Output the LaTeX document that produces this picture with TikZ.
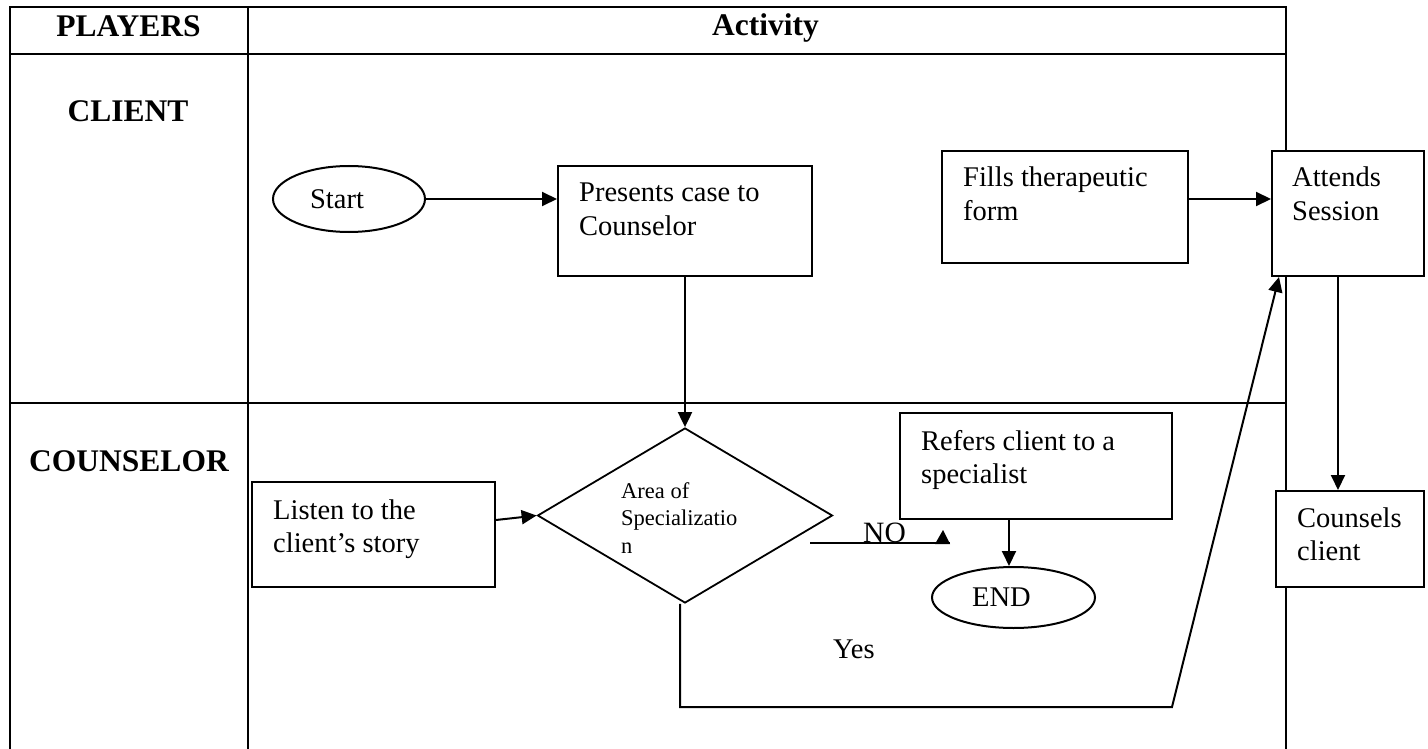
\documentclass[tikz,border=0pt]{standalone}
\usepackage{fontspec}
\setmainfont{Liberation Serif}
\usetikzlibrary{shapes.geometric,arrows.meta}
\begin{document}
\begin{tikzpicture}[x=1pt,y=-1pt,
  tbl/.style={line width=2.7pt},
  box/.style={draw,line width=2pt,fill=white,rectangle,inner sep=0pt},
  term/.style={draw,line width=2pt,fill=white,ellipse,inner sep=0pt,font=\fontsize{28.5}{33}\selectfont},
  dec/.style={draw,line width=1.8pt,fill=white,diamond,inner sep=0pt},
  conn/.style={line width=2pt},
  arr/.style={conn,-{Triangle[length=15pt,width=14pt]}},
  head/.style={font=\bfseries\fontsize{31.5}{36}\selectfont,inner sep=0pt,anchor=base},
  txt/.style={font=\fontsize{28.5}{33.5}\selectfont,inner sep=0pt,anchor=base west},
  small/.style={font=\fontsize{22.5}{27.5}\selectfont,inner sep=0pt,anchor=base west}]
\useasboundingbox[fill=white] (0,0) rectangle (1428,749);

% table
\draw[tbl] (10,749) -- (10,7) -- (1286,7) -- (1286,749);
\draw[tbl] (10,54) -- (1286,54);
\draw[tbl] (10,403) -- (1286,403);
\draw[tbl] (248,7) -- (248,749);

% headers
\node[head] (hp) at (128.5,37) {PLAYERS};
\node[head] (ha) at (765.5,36) {Activity};
\node[head] (hc) at (128,122) {CLIENT};
\node[head] (hco) at (129,471) {COUNSELOR};

% shapes
\node[term,minimum width=152,minimum height=66] (start) at (349,199) {\hspace*{-24pt}Start};
\node[box,minimum width=254,minimum height=110] (pres) at (685,221) {};
\node[box,minimum width=246,minimum height=112] (fills) at (1065,207) {};
\node[box,minimum width=152,minimum height=125] (att) at (1348,213.5) {};
\node[box,minimum width=148,minimum height=96] (couns) at (1350,539) {};
\node[box,minimum width=243,minimum height=105] (listen) at (373.5,534.5) {};
\node[box,minimum width=272,minimum height=106] (refers) at (1036,466) {};
\node[dec,minimum width=295,minimum height=175] (dia) at (685,515.5) {};
\node[term,minimum width=163,minimum height=61] (endn) at (1013.5,597.5) {\hspace*{-24pt}END};

% texts
\node[txt] (presT) at (579,202) {\begin{tabular}[t]{@{}l@{}}Presents case to\\Counselor\end{tabular}};
\node[txt] (fillsT) at (963,187) {\begin{tabular}[t]{@{}l@{}}Fills therapeutic\\form\end{tabular}};
\node[txt] (attT) at (1292,187) {\begin{tabular}[t]{@{}l@{}}Attends\\Session\end{tabular}};
\node[txt] (counsT) at (1297,527) {\begin{tabular}[t]{@{}l@{}}Counsels\\client\end{tabular}};
\node[txt] (listenT) at (273,519) {\begin{tabular}[t]{@{}l@{}}Listen to the\\client’s story\end{tabular}};
\node[txt] (refersT) at (921,450) {\begin{tabular}[t]{@{}l@{}}Refers client to a\\specialist\end{tabular}};
\node[small] (diaT) at (621,498) {\begin{tabular}[t]{@{}l@{}}Area of\\Specializatio\\n\end{tabular}};
\node[txt,font=\fontsize{29.5}{34}\selectfont] (noT) at (863,542) {NO};
\node[txt] (yesT) at (833,658) {Yes};

% connectors
\draw[arr] (start.east) -- (start.east -| pres.west);
\draw[arr] (pres.south) -- (dia.north);
\draw[arr] (fills.east |- start.east) -- (att.west |- start.east);
\draw[arr] ([xshift=-10pt]att.south) -- ([xshift=-10pt]att.south |- couns.north);
\draw[arr] (listen.east |- 0,520) -- (dia.west);
\draw[arr] ([xshift=-4.5pt]endn.north |- refers.south) -- ([xshift=-4.5pt]endn.north);
\coordinate (nos) at (810,543);
\coordinate (noe) at (950,543);
\draw[conn] (nos) -- (noe);
\fill (935,544) -- (950,544) -- (943,530) -- cycle;
\coordinate (y1) at (680,707);
\coordinate (y2) at (1172,707);
\draw[arr] (dia.south -| y1) -- (y1) -- (y2) -- ([xshift=8pt]att.south west);
\end{tikzpicture}
\end{document}
